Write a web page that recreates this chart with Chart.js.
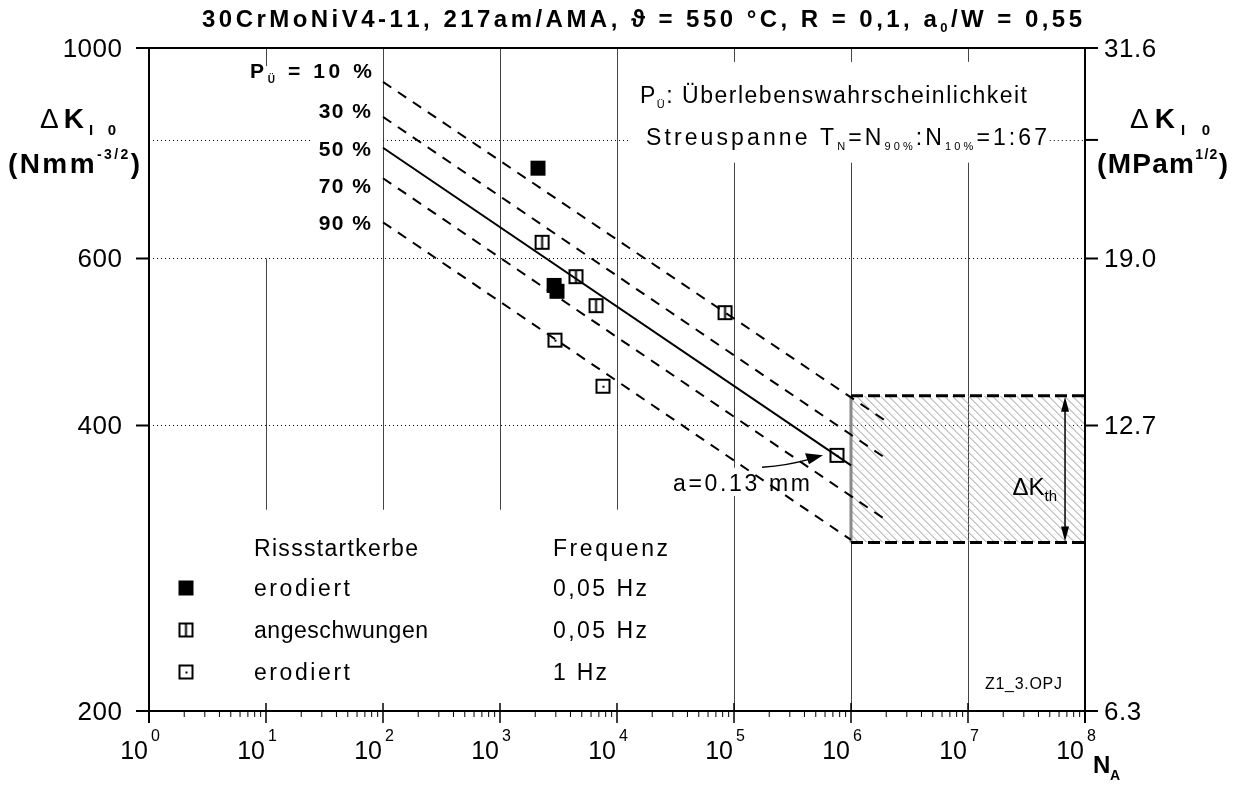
<!DOCTYPE html>
<html>
<head>
<meta charset="utf-8">
<script src="https://cdn.jsdelivr.net/npm/chart.js@4.4.1/dist/chart.umd.min.js"></script>
<style>
  html, body { margin: 0; background: #fff; }
  canvas { display: block; }
</style>
</head>
<body>
<canvas id="myChart" width="1235" height="796"></canvas>
<script>
// P_Ü lines: value at N = 100 and at the line end
var probLabels = ['10 %', '30 %', '50 %', '70 %', '90 %'];
var lineStartN = [100, 100, 100, 100, 100];
var lineStartK = [921, 846, 785, 729, 655];
var lineEndN = [2.07e6, 2.07e6, 1e6, 2.07e6, 1e6];
var lineEndK = [403, 368, 363, 317, 303];

// test results (N_A, ΔK_I0 in Nmm^-3/2)
var erodiertN = [2110, 2900, 3070];
var erodiertK = [747, 562, 554];
var angeschwN = [2290, 4460, 6620, 83800];
var angeschwK = [624, 574, 535, 526];
var erodiert1HzN = [2950, 7590, 759000];
var erodiert1HzK = [492, 440, 372];

// threshold band ΔK_th
var thresholdN = [1e6, 1e8];
var thresholdK = [301, 430];

// axes
var xDecades = [0, 1, 2, 3, 4, 5, 6, 7, 8];
var yTicks = [200, 400, 600, 800, 1000];
var yTickLabels = ['200', '400', '600', '', '1000'];
var yRightLabels = ['6.3', '12.7', '19.0', '', '31.6'];

var FONT = '"Liberation Sans", Arial, sans-serif';

function pts(ns, ks) {
  return ns.map(function (n, i) { return { x: n, y: ks[i] }; });
}

function markerCanvas(kind) {
  var c = document.createElement('canvas');
  c.width = 17; c.height = 17;
  var g = c.getContext('2d');
  g.fillStyle = '#000';
  g.strokeStyle = '#000';
  if (kind === 'filled') {
    g.fillRect(1, 1, 15, 15);
  } else {
    g.lineWidth = 2;
    g.strokeRect(2, 2, 13, 13);
    if (kind === 'split') {
      g.beginPath(); g.moveTo(8.5, 2); g.lineTo(8.5, 15); g.stroke();
    } else {
      g.fillRect(8, 8, 2, 2);
    }
  }
  return c;
}
var mFilled = markerCanvas('filled');
var mSplit = markerCanvas('split');
var mDot = markerCanvas('dot');

// draw a run of text pieces [text, size, bold, dy]; optional fit to width
function rich(ctx, parts, x, y, align, width, spacing) {
  var chars = [];
  parts.forEach(function (p) {
    var f = (p[2] ? 'bold ' : '') + p[1] + 'px ' + FONT;
    ctx.font = f;
    for (var i = 0; i < p[0].length; i++) {
      chars.push({ ch: p[0][i], f: f, w: ctx.measureText(p[0][i]).width, dy: p[3] || 0 });
    }
  });
  var natural = chars.reduce(function (s, c) { return s + c.w; }, 0);
  var sp = spacing || 0;
  if (width) sp = (width - natural) / (chars.length - 1);
  var total = natural + sp * (chars.length - 1);
  var cx = x;
  if (align === 'center') cx = x - total / 2;
  if (align === 'right') cx = x - total;
  ctx.textAlign = 'left';
  ctx.textBaseline = 'alphabetic';
  ctx.fillStyle = '#000';
  chars.forEach(function (c) {
    ctx.font = c.f;
    ctx.fillText(c.ch, cx, y + c.dy);
    cx += c.w + sp;
  });
}

var decorPlugin = {
  id: 'decor',
  beforeDatasetsDraw: function (chart) {
    var ctx = chart.ctx, xs = chart.scales.x, ys = chart.scales.y;
    ctx.save();

    // vertical grid lines, broken where text sits
    var vGrid = [
      [10, [[1000, 957], [600, 326]]],
      [1e2, [[1000, 326]]],
      [1e3, [[1000, 326]]],
      [1e4, [[1000, 326]]],
      [1e5, [[1000, 967], [757, 361], [337, 200]]],
      [1e6, [[1000, 967], [757, 200]]],
      [1e7, [[1000, 967], [757, 200]]]
    ];
    ctx.strokeStyle = '#444';
    ctx.lineWidth = 1;
    vGrid.forEach(function (g) {
      var x = Math.round(xs.getPixelForValue(g[0])) + 0.5;
      g[1].forEach(function (s) {
        ctx.beginPath();
        ctx.moveTo(x, ys.getPixelForValue(s[0]));
        ctx.lineTo(x, ys.getPixelForValue(s[1]));
        ctx.stroke();
      });
    });

    // dotted horizontal grid
    var hGrid = [
      [800, [[1, 24.7], [100, 12900], [5e7, 1e8]]],
      [600, [[1, 1e8]]],
      [400, [[1, 1e8]]]
    ];
    ctx.setLineDash([1, 3]);
    ctx.strokeStyle = '#000';
    hGrid.forEach(function (g) {
      var y = Math.round(ys.getPixelForValue(g[0])) + 0.5;
      g[1].forEach(function (s) {
        ctx.beginPath();
        ctx.moveTo(xs.getPixelForValue(s[0]), y);
        ctx.lineTo(xs.getPixelForValue(s[1]), y);
        ctx.stroke();
      });
    });
    ctx.setLineDash([]);

    // hatched threshold band
    var bx0 = xs.getPixelForValue(thresholdN[0]), bx1 = xs.getPixelForValue(thresholdN[1]);
    var by0 = ys.getPixelForValue(thresholdK[1]), by1 = ys.getPixelForValue(thresholdK[0]);
    ctx.save();
    ctx.beginPath();
    ctx.rect(bx0, by0, bx1 - bx0, by1 - by0);
    ctx.clip();
    ctx.strokeStyle = '#999';
    ctx.lineWidth = 1;
    for (var hx = bx0 - (by1 - by0); hx < bx1; hx += 8) {
      ctx.beginPath();
      ctx.moveTo(hx, by0);
      ctx.lineTo(hx + (by1 - by0), by1);
      ctx.stroke();
    }
    ctx.restore();
    ctx.strokeStyle = '#888';
    ctx.lineWidth = 3;
    ctx.beginPath(); ctx.moveTo(bx0, by0); ctx.lineTo(bx0, by1); ctx.stroke();
    ctx.strokeStyle = '#000';
    ctx.setLineDash([12, 5]);
    ctx.beginPath(); ctx.moveTo(bx0, by0); ctx.lineTo(bx1, by0); ctx.stroke();
    ctx.beginPath(); ctx.moveTo(bx0, by1); ctx.lineTo(bx1, by1); ctx.stroke();
    ctx.setLineDash([]);

    // double arrow ΔK_th
    var ax = xs.getPixelForValue(6.75e7);
    ctx.lineWidth = 1.5;
    ctx.beginPath(); ctx.moveTo(ax, by0 + 8); ctx.lineTo(ax, by1 - 8); ctx.stroke();
    ctx.fillStyle = '#000';
    ctx.beginPath(); ctx.moveTo(ax, by0 + 1); ctx.lineTo(ax - 4, by0 + 16); ctx.lineTo(ax + 4, by0 + 16); ctx.fill();
    ctx.beginPath(); ctx.moveTo(ax, by1 - 1); ctx.lineTo(ax - 4, by1 - 16); ctx.lineTo(ax + 4, by1 - 16); ctx.fill();

    ctx.restore();
  },
  afterDatasetsDraw: function (chart) {
    var ctx = chart.ctx, xs = chart.scales.x, ys = chart.scales.y, a = chart.chartArea;
    ctx.save();
    ctx.strokeStyle = '#000';
    ctx.fillStyle = '#000';

    // frame
    ctx.lineWidth = 2;
    ctx.beginPath();
    ctx.moveTo(a.left - 13, a.top); ctx.lineTo(a.right + 13, a.top);
    ctx.moveTo(a.left - 13, a.bottom); ctx.lineTo(a.right + 13, a.bottom);
    ctx.moveTo(a.left, a.top); ctx.lineTo(a.left, a.bottom + 12);
    ctx.moveTo(a.right, a.top); ctx.lineTo(a.right, a.bottom + 12);
    ctx.stroke();

    // y ticks and labels
    yTicks.forEach(function (v, i) {
      var y = ys.getPixelForValue(v);
      ctx.lineWidth = 2;
      ctx.beginPath();
      if (yTickLabels[i]) { ctx.moveTo(a.left - 13, y); ctx.lineTo(a.left, y); }
      ctx.moveTo(a.right, y); ctx.lineTo(a.right + 13, y);
      ctx.stroke();
      if (yTickLabels[i]) rich(ctx, [[yTickLabels[i], 26, false]], a.left - 27, y + 9, 'right', 0, 0.5);
      if (yRightLabels[i]) rich(ctx, [[yRightLabels[i], 26, false]], a.right + 19, y + 9, 'left', 0, 0.5);
    });

    // x ticks: decades and minor ticks
    xDecades.forEach(function (d) {
      var x = xs.getPixelForValue(Math.pow(10, d));
      ctx.lineWidth = 1.5;
      ctx.beginPath(); ctx.moveTo(x, a.bottom - 8); ctx.lineTo(x, a.bottom + 12); ctx.stroke();
      rich(ctx, [['10', 25, false]], x - 1, 759, 'right', 0, 0);
      rich(ctx, [[String(d), 16, false]], x + 2, 741, 'left', 0, 0);
      if (d < 8) {
        for (var m = 2; m < 10; m++) {
          var mx = xs.getPixelForValue(m * Math.pow(10, d));
          ctx.lineWidth = 1;
          ctx.beginPath(); ctx.moveTo(mx, a.bottom); ctx.lineTo(mx, a.bottom + 6); ctx.stroke();
        }
      }
    });

    // title
    rich(ctx, [['30CrMoNiV4-11, 217am/AMA, \u03D1 = 550 \u00B0C, R = 0,1, a', 24, true],
               ['0', 13, true, 5], ['/W = 0,55', 24, true]], 202, 27, 'left', 880);

    // axis titles
    rich(ctx, [['\u0394', 28, false], ['K', 28, true], ['I 0', 15, true, 7]], 40, 128, 'left', 76);
    rich(ctx, [['(Nmm', 28, true], ['-3/2', 14, true, -14], [')', 28, true]], 8, 173, 'left', 132);
    rich(ctx, [['\u0394', 28, false], ['K', 28, true], ['I 0', 15, true, 7]], 1130, 128, 'left', 80);
    rich(ctx, [['(MPam', 28, true], ['1/2', 14, true, -14], [')', 28, true]], 1097, 173, 'left', 131);
    rich(ctx, [['N', 24, true], ['A', 14, true, 7]], 1093, 773, 'left', 27);

    // P_Ü labels
    var labelY = [78, 118, 156, 193, 230];
    probLabels.forEach(function (t, i) {
      if (i === 0) {
        rich(ctx, [['P', 21, true], ['\u00DC', 10, true, 5], [' = ' + t, 21, true]], 250, labelY[i], 'left', 122);
      } else {
        rich(ctx, [[t, 21, true]], 371, labelY[i], 'right', 0, 1.5);
      }
    });

    // notes
    rich(ctx, [['P', 23, false], ['\u00DC', 11, false, 5], [': \u00DCberlebenswahrscheinlichkeit', 23, false]], 640, 103, 'left', 387);
    rich(ctx, [['Streuspanne T', 23, false], ['N', 11, false, 5], ['=N', 23, false], ['90%', 11, false, 5],
               [':N', 23, false], ['10%', 11, false, 5], ['=1:67', 23, false]], 646, 145, 'left', 401);

    // a = 0.13 mm pointer
    var tx = xs.getPixelForValue(erodiert1HzN[2]) - 14, ty = ys.getPixelForValue(erodiert1HzK[2]) + 2;
    ctx.lineWidth = 1.5;
    ctx.beginPath();
    ctx.moveTo(tx - 61, ty + 10);
    ctx.quadraticCurveTo(tx - 35, ty + 8, tx - 14, ty + 2);
    ctx.stroke();
    ctx.beginPath();
    ctx.moveTo(tx, ty - 2); ctx.lineTo(tx - 18, ty - 4); ctx.lineTo(tx - 14, ty + 7); ctx.fill();
    rich(ctx, [['a=0.13 mm', 23, false]], 673, 491, 'left', 137);

    // ΔK_th
    rich(ctx, [['\u0394K', 24, false], ['th', 15, false, 6]], 1057, 495, 'right', 0, 0);

    // legend block
    rich(ctx, [['Rissstartkerbe', 23, false]], 254, 556, 'left', 164);
    rich(ctx, [['Frequenz', 23, false]], 553, 556, 'left', 115);
    var rows = [[mFilled, 'erodiert', 96, '0,05 Hz', 94], [mSplit, 'angeschwungen', 174, '0,05 Hz', 94], [mDot, 'erodiert', 96, '1 Hz', 54]];
    rows.forEach(function (r, i) {
      var ry = 588 + i * 42;
      ctx.drawImage(r[0], 186 - 8.5, ry - 8.5);
      rich(ctx, [[r[1], 23, false]], 254, ry + 8, 'left', r[2]);
      rich(ctx, [[r[3], 23, false]], 553, ry + 8, 'left', r[4]);
    });

    rich(ctx, [['Z1_3.OPJ', 16, false]], 985, 689, 'left', 77);
    ctx.restore();
  }
};

var datasets = [];
probLabels.forEach(function (t, i) {
  datasets.push({
    type: 'line',
    label: 'P = ' + t,
    data: [{ x: lineStartN[i], y: lineStartK[i] }, { x: lineEndN[i], y: lineEndK[i] }],
    borderColor: '#000',
    borderWidth: 2,
    borderDash: i === 2 ? [] : [10, 8],
    pointRadius: 0,
    fill: false
  });
});
datasets.push({ label: 'erodiert 0,05 Hz', data: pts(erodiertN, erodiertK), pointStyle: mFilled });
datasets.push({ label: 'angeschwungen 0,05 Hz', data: pts(angeschwN, angeschwK), pointStyle: mSplit });
datasets.push({ label: 'erodiert 1 Hz', data: pts(erodiert1HzN, erodiert1HzK), pointStyle: mDot });

var ctx = document.getElementById('myChart').getContext('2d');
var myChart = new Chart(ctx, {
  type: 'scatter',
  data: { datasets: datasets },
  options: {
    responsive: false,
    animation: false,
    layout: { padding: { left: 149, right: 150, top: 48, bottom: 85 } },
    plugins: { legend: { display: false }, tooltip: { enabled: false } },
    scales: {
      x: { type: 'logarithmic', min: 1, max: 1e8, display: false },
      y: { type: 'logarithmic', min: 200, max: 1000, display: false }
    }
  },
  plugins: [decorPlugin]
});
</script>
</body>
</html>
